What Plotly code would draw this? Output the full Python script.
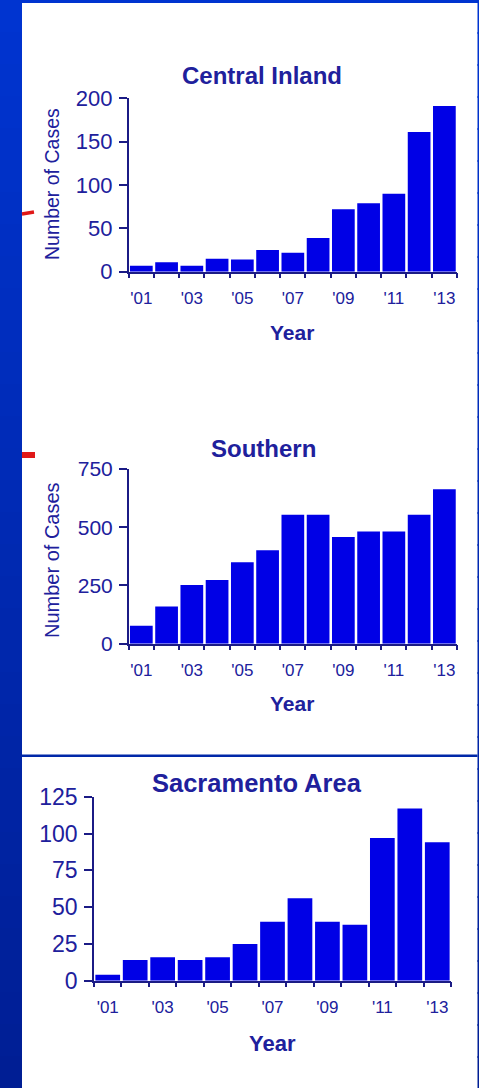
import plotly.graph_objects as go

# ---- data -------------------------------------------------------------
years = [2001, 2002, 2003, 2004, 2005, 2006, 2007, 2008, 2009, 2010, 2011, 2012, 2013]
label_years = [2001, 2003, 2005, 2007, 2009, 2011, 2013]
year_labels = ["'01", "'03", "'05", "'07", "'09", "'11", "'13"]

central_inland = [7, 11, 7, 15, 14, 25, 22, 39, 72, 79, 90, 161, 191]
southern = [77, 160, 252, 273, 350, 401, 554, 554, 458, 482, 482, 554, 663]
sacramento = [4, 14, 16, 14, 16, 25, 40, 56, 40, 38, 97, 117, 94]

central_ticks = [0, 50, 100, 150, 200]
southern_ticks = [0, 250, 500, 750]
sacramento_ticks = [0, 25, 50, 75, 100, 125]

# ---- page geometry ----------------------------------------------------
W, H = 479, 1088


def fx(px):
    return px / W


def fy(py):
    return 1 - py / H


BAR = "#0000E6"
TEXT = "#20209C"
AXIS = "#1B1B85"
FONT = "Liberation Sans, Arial, sans-serif"

fig = go.Figure()

panels = [
    # series, y ticks, x pixel span, y pixel span (top, bottom), tick font size
    dict(y=central_inland, ticks=central_ticks, xs=(128.7, 457), ys=(98.3, 271.7), tfs=22),
    dict(y=southern, ticks=southern_ticks, xs=(128.7, 457), ys=(469, 643.7), tfs=21),
    dict(y=sacramento, ticks=sacramento_ticks, xs=(94, 451), ys=(796.7, 980.7), tfs=23),
]

boundaries = [y - 0.5 for y in years] + [years[-1] + 0.5]

for i, p in enumerate(panels, start=1):
    sfx = "" if i == 1 else str(i)
    fig.add_trace(go.Bar(
        x=years, y=p["y"], marker=dict(color=BAR, line=dict(width=0)),
        xaxis="x" + sfx, yaxis="y" + sfx, showlegend=False,
    ))
    fig.layout["xaxis" + sfx] = dict(
        domain=[fx(p["xs"][0]), fx(p["xs"][1])],
        anchor="y" + sfx, automargin=False,
        range=[years[0] - 0.5, years[-1] + 0.5],
        tickmode="array", tickvals=label_years, ticktext=year_labels,
        ticks="", ticklabelstandoff=10,
        minor=dict(tickmode="array", tickvals=boundaries, ticks="outside",
                   ticklen=5, tickwidth=1.5, tickcolor=AXIS),
        showline=True, linecolor=AXIS, linewidth=1.5,
        showgrid=False, zeroline=False,
        tickfont=dict(family=FONT, size=17, color=TEXT),
        fixedrange=True,
    )
    fig.layout["yaxis" + sfx] = dict(
        domain=[fy(p["ys"][1]), fy(p["ys"][0])],
        anchor="x" + sfx, automargin=False,
        range=[0, p["ticks"][-1]],
        tickmode="array", tickvals=p["ticks"],
        ticks="outside", ticklen=8, tickwidth=1.5, tickcolor=AXIS,
        ticklabelstandoff=2,
        showline=True, linecolor=AXIS, linewidth=1.5,
        showgrid=False, zeroline=False,
        tickfont=dict(family=FONT, size=p["tfs"], color=TEXT),
        fixedrange=True,
    )

# ---- text -------------------------------------------------------------
def label(text, x, y, size, bold=True, angle=0):
    fig.add_annotation(
        text=f"<b>{text}</b>" if bold else text,
        x=fx(x), y=fy(y), xref="paper", yref="paper",
        xanchor="center", yanchor="middle", showarrow=False,
        textangle=angle, font=dict(family=FONT, size=size, color=TEXT),
    )


label("Central Inland", 262, 76, 24)
label("Southern", 263, 448, 24)
label("Sacramento Area", 257, 783, 25.5)

label("Year", 292, 332, 21)
label("Year", 292, 703, 21)
label("Year", 272, 1043, 22)

label("Number of Cases", 52, 184, 19.5, bold=False, angle=-90)
label("Number of Cases", 52, 560, 20, bold=False, angle=-90)

# ---- slide frame ------------------------------------------------------
shapes = []


def rect(x0, y0, x1, y1, color):
    shapes.append(dict(type="rect", xref="paper", yref="paper",
                       x0=fx(x0), x1=fx(x1), y0=fy(y1), y1=fy(y0),
                       fillcolor=color, line=dict(width=0), layer="below"))


top_rgb = (0, 52, 208)
bot_rgb = (0, 30, 148)
bands = 34
step = H / bands
for b in range(bands):
    t = b / (bands - 1)
    c = tuple(round(top_rgb[k] + (bot_rgb[k] - top_rgb[k]) * t) for k in range(3))
    col = f"rgb{c}"
    y0 = round(b * step)
    y1 = min(H, round((b + 1) * step) + 2)
    rect(0, y0, 22, y1, col)
    rect(477.5, y0, W, y1, col)

rect(0, 0, W, 3, "rgb(0,52,208)")
rect(22, 754.5, 477.5, 757, "rgb(0,40,168)")

# small red marks at the left edge
shapes.append(dict(type="line", xref="paper", yref="paper",
                   x0=fx(22), x1=fx(34), y0=fy(214), y1=fy(212),
                   line=dict(color="#E01818", width=3.5)))
rect(22, 452, 35, 458, "#E01818")

fig.update_layout(
    width=W, height=H,
    margin=dict(l=0, r=0, t=0, b=0, autoexpand=False),
    paper_bgcolor="white", plot_bgcolor="rgba(0,0,0,0)",
    bargap=0.1, showlegend=False,
    shapes=shapes,
)

fig.write_html("out.html", config={"displayModeBar": False})
